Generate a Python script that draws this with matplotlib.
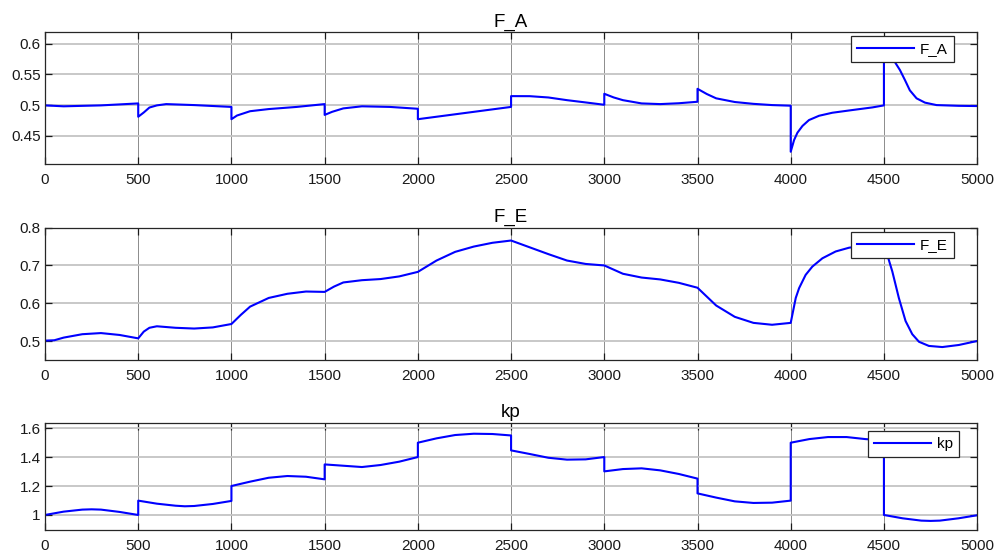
import matplotlib
matplotlib.use("Agg")
import matplotlib.pyplot as plt

plt.rcParams['font.family'] = ['Liberation Sans', 'DejaVu Sans']

# F_A samples (time, value); repeated times are the step jumps
fa_t = [0, 100, 300, 500, 500, 530, 560, 600, 650, 800, 1000,
        1000, 1030, 1100, 1200, 1350, 1500,
        1500, 1540, 1600, 1700, 1850, 2000,
        2000, 2100, 2300, 2500,
        2500, 2600, 2700, 2800, 2900, 3000,
        3000, 3050, 3100, 3200, 3300, 3400, 3500,
        3500, 3550, 3600, 3700, 3800, 3900, 4000,
        4000, 4018, 4036, 4063, 4098, 4152, 4223, 4330, 4438, 4500,
        4500, 4530, 4559, 4586, 4613, 4639, 4675, 4720, 4782, 4900, 5000]
fa_v = [0.4995, 0.498, 0.4995, 0.5027, 0.481, 0.488, 0.496, 0.4995, 0.5016, 0.500, 0.497,
        0.477, 0.483, 0.490, 0.4935, 0.497, 0.5016,
        0.484, 0.489, 0.4946, 0.498, 0.497, 0.494,
        0.477, 0.481, 0.489, 0.497,
        0.5146, 0.5145, 0.5124, 0.508, 0.5043, 0.5005,
        0.5184, 0.5125, 0.508, 0.5027, 0.5016, 0.503, 0.5054,
        0.5265, 0.518, 0.511, 0.505, 0.502, 0.500, 0.499,
        0.424, 0.443, 0.455, 0.466, 0.4756, 0.4826, 0.4875, 0.4919, 0.4962, 0.4995,
        0.600, 0.586, 0.570, 0.557, 0.5406, 0.524, 0.511, 0.504, 0.500, 0.4988, 0.4984]

# F_E samples
fe_t = [0, 50, 100, 200, 300, 400, 500,
        530, 560, 600, 700, 800, 900, 1000,
        1050, 1100, 1200, 1300, 1400, 1500,
        1550, 1600, 1700, 1800, 1900, 2000,
        2100, 2200, 2300, 2400, 2500,
        2600, 2700, 2800, 2900, 3000,
        3100, 3200, 3300, 3400, 3500,
        3600, 3700, 3800, 3900, 4000,
        4009, 4027, 4045, 4080, 4116, 4170, 4241, 4313, 4400, 4500,
        4518, 4545, 4580, 4616, 4652, 4688, 4741, 4813, 4902, 5000]
fe_v = [0.501, 0.502, 0.509, 0.518, 0.521, 0.516, 0.507,
        0.525, 0.535, 0.539, 0.535, 0.533, 0.536, 0.545,
        0.569, 0.591, 0.614, 0.625, 0.631, 0.630,
        0.644, 0.655, 0.661, 0.664, 0.671, 0.683,
        0.713, 0.736, 0.750, 0.760, 0.766,
        0.748, 0.730, 0.713, 0.704, 0.700,
        0.678, 0.668, 0.663, 0.654, 0.641,
        0.594, 0.564, 0.548, 0.543, 0.548,
        0.570, 0.614, 0.640, 0.675, 0.697, 0.719, 0.737, 0.747, 0.753, 0.757,
        0.728, 0.684, 0.614, 0.553, 0.518, 0.498, 0.487, 0.484, 0.4895, 0.500]

# kp samples
kp_t = [0, 100, 200, 250, 300, 400, 500,
        500, 600, 700, 750, 800, 900, 1000,
        1000, 1100, 1200, 1300, 1400, 1500,
        1500, 1600, 1700, 1800, 1900, 2000,
        2000, 2100, 2200, 2300, 2400, 2500,
        2500, 2600, 2700, 2800, 2900, 3000,
        3000, 3100, 3200, 3300, 3400, 3500,
        3500, 3600, 3700, 3800, 3900, 4000,
        4000, 4100, 4200, 4300, 4400, 4500,
        4500, 4600, 4700, 4750, 4800, 4900, 5000]
kp_v = [1.0, 1.023, 1.037, 1.039, 1.037, 1.021, 1.0,
        1.099, 1.078, 1.064, 1.060, 1.062, 1.076, 1.097,
        1.2, 1.23, 1.257, 1.269, 1.264, 1.246,
        1.349, 1.34, 1.331, 1.345, 1.368, 1.4,
        1.499, 1.529, 1.552, 1.561, 1.559, 1.549,
        1.446, 1.421, 1.395, 1.382, 1.384, 1.4,
        1.301, 1.317, 1.322, 1.308, 1.283, 1.251,
        1.149, 1.12, 1.094, 1.083, 1.085, 1.099,
        1.499, 1.524, 1.538, 1.538, 1.524, 1.515,
        1.0, 0.977, 0.961, 0.959, 0.961, 0.977, 0.998]

# name, t, v, ylim, yticks, yticklabels, axes rect, legend corner (fig fraction)
panels = [
    ("F_A", fa_t, fa_v, (0.404, 0.619), [0.45, 0.5, 0.55, 0.6],
     ["0.45", "0.5", "0.55", "0.6"], [0.0451, 0.7066, 0.934, 0.2361], (0.9559, 0.9356)),
    ("F_E", fe_t, fe_v, (0.449, 0.8), [0.5, 0.6, 0.7, 0.8],
     ["0.5", "0.6", "0.7", "0.8"], [0.0451, 0.3555, 0.934, 0.2372], (0.9559, 0.5850)),
    ("kp", kp_t, kp_v, (0.894, 1.637), [1.0, 1.2, 1.4, 1.6],
     ["1", "1.2", "1.4", "1.6"], [0.0451, 0.0513, 0.934, 0.1925], (0.9609, 0.2290)),
]

fig = plt.figure(figsize=(9.98, 5.59), dpi=100)

for name, t, v, ylim, yt, ytl, pos, lc in panels:
    ax = fig.add_axes(pos)
    ax.plot(t, v, color="#0000ff", lw=1.5, label=name)
    ax.set_xlim(0, 5000)
    ax.set_ylim(*ylim)
    ax.set_xticks(range(0, 5001, 500))
    ax.set_yticks(yt)
    ax.set_yticklabels(ytl)
    ax.set_axisbelow(True)
    ax.yaxis.grid(True, color="#c4c4c4", lw=1.3)
    ax.xaxis.grid(True, color="#8c8c8c", lw=0.7)
    ax.tick_params(direction="in", length=5, width=0.9, top=True, right=True,
                   labelsize=11, colors="#1a1a1a")
    ax.tick_params(axis="x", pad=6.5)
    ax.tick_params(axis="y", pad=3)
    for s in ax.spines.values():
        s.set_color("#262626")
        s.set_linewidth(0.9)
    ax.set_title(name, fontsize=13.5, pad=4)
    leg = ax.legend(loc="upper right", bbox_to_anchor=lc, bbox_transform=fig.transFigure,
                    fontsize=11, fancybox=False, framealpha=1, edgecolor="#262626",
                    handlelength=3.7, handletextpad=0.4, borderaxespad=0, borderpad=0.4)
    leg.get_frame().set_linewidth(0.9)

fig.savefig("out.png", dpi=100)
